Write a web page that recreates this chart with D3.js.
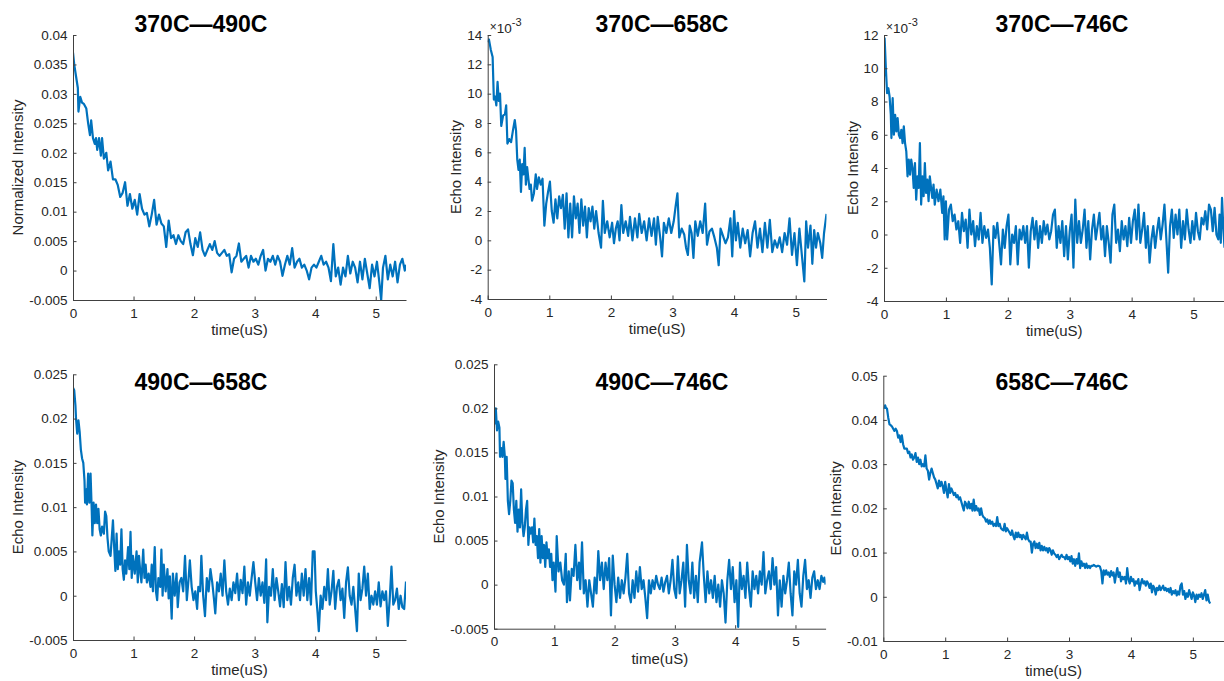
<!DOCTYPE html>
<html lang="en">
<head>
<meta charset="UTF-8">
<title>Echo intensity decays</title>
<script src="https://cdn.jsdelivr.net/npm/d3@7/dist/d3.min.js"></script>
<style>
    body { margin: 0; background: #fff; }
    svg { display: block; font-family: "Liberation Sans", Arial, Helvetica, sans-serif; }
    .tick text { font-size: 13.5px; fill: #262626; }
    .tick line, .domain { stroke: #404040; }
    .axis-label { font-size: 15px; fill: #262626; }
    .title { font-size: 23px; font-weight: bold; fill: #000; }
    .line { fill: none; stroke: #0072BD; stroke-width: 2.2px; stroke-linejoin: round; }
</style>
</head>
<body>
<svg width="1224" height="681"></svg>
<script>
// all intensities below are in units of 1e-3, time in uS
const titles = ["370C\u2014490C", "370C\u2014658C", "370C\u2014746C",
                "490C\u2014658C", "490C\u2014746C", "658C\u2014746C"];
const yLabels = ["Normalized Intensity", "Echo Intensity", "Echo Intensity",
                 "Echo Intensity", "Echo Intensity", "Echo Intensity"];
const xTicks = [0, 1, 2, 3, 4, 5];

const yTicks005 = [-5, 0, 5, 10, 15, 20, 25, 30, 35, 40];
const yTickText005 = ["-0.005", "0", "0.005", "0.01", "0.015", "0.02", "0.025", "0.03", "0.035", "0.04"];
const yTicks14 = [-4, -2, 0, 2, 4, 6, 8, 10, 12, 14];
const yTicks12 = [-4, -2, 0, 2, 4, 6, 8, 10, 12];
const yTicks025 = [-5, 0, 5, 10, 15, 20, 25];
const yTickText025 = ["-0.005", "0", "0.005", "0.01", "0.015", "0.02", "0.025"];
const yTicks05 = [-10, 0, 10, 20, 30, 40, 50];
const yTickText05 = ["-0.01", "0", "0.01", "0.02", "0.03", "0.04", "0.05"];

const s370_490 = [[0,37],[0.02,35],[0.05,33],[0.08,31],[0.09,27],[0.12,29.5],[0.15,28.5],[0.18,28.3],[0.22,27.5],
 [0.25,25],[0.28,23],[0.3,25.5],[0.33,22.5],[0.36,21.5],[0.38,22.5],[0.4,20.5],[0.43,22.5],[0.46,19.5],[0.48,22.5],
 [0.51,19],[0.55,20],[0.58,17],[0.62,18.5],[0.66,15.5],[0.7,15.5],[0.74,14.5],[0.78,12.5],[0.82,13.2],[0.86,15],
 [0.9,11],[0.94,13],[0.98,10.5],[1.02,12],[1.06,9.5],[1.1,13],[1.14,10.5],[1.18,9.5],[1.22,9.8],[1.26,7.5],[1.3,9.5],
 [1.34,12],[1.38,7.8],[1.42,9.5],[1.46,8],[1.5,7.5],[1.54,4],[1.58,8.5],[1.62,5.5],[1.66,6],[1.7,4.5],[1.74,6],
 [1.78,5],[1.82,4.5],[1.86,6.5],[1.9,7],[1.94,4.5],[1.98,2.6],[2.02,5.5],[2.06,4],[2.1,6.5],[2.14,3.5],[2.18,2.5],
 [2.22,3.5],[2.26,4.5],[2.3,3.5],[2.34,5],[2.38,3],[2.42,2.5],[2.46,3],[2.5,3.5],[2.54,2.5],[2.58,2.8],[2.62,-0.3],
 [2.66,2],[2.7,2.5],[2.74,4.6],[2.78,1.5],[2.82,2],[2.86,2.5],[2.9,0.5],[2.94,2.5],[2.98,1.5],[3.02,2],[3.06,1],
 [3.1,2.5],[3.14,3.5],[3.18,0],[3.22,2],[3.26,1.5],[3.3,2.5],[3.34,1],[3.38,2.5],[3.42,1.5],[3.46,-0.9],[3.5,1],
 [3.54,2.5],[3.58,1],[3.62,3.8],[3.66,0.5],[3.7,1.5],[3.74,2],[3.78,0.5],[3.82,1],[3.86,0],[3.9,-1.5],[3.94,0.5],
 [3.98,1],[4.02,0.5],[4.06,1.5],[4.1,2.5],[4.14,1],[4.18,1.5],[4.22,0.5],[4.26,-1.8],[4.3,4.5],[4.34,-1],[4.38,0.5],
 [4.42,-2.4],[4.46,0.5],[4.5,-1],[4.54,2.5],[4.58,-0.5],[4.62,1.5],[4.66,0.5],[4.7,-2],[4.74,1.5],[4.78,-1.5],
 [4.82,2],[4.86,-0.5],[4.9,-3],[4.94,1],[4.98,-1],[5.02,1.5],[5.06,-2],[5.09,-5],[5.12,0.5],[5.16,2.5],[5.2,-1.5],
 [5.24,1],[5.28,-1],[5.32,1.5],[5.36,-2],[5.4,1],[5.44,2],[5.48,0],[5.5,1]];

const s370_658 = [[0,13.5],[0.02,13.7],[0.05,13],[0.08,12.5],[0.1,9.6],[0.12,9.8],[0.14,9.2],[0.16,10.8],[0.18,9.5],
 [0.2,10],[0.22,7.8],[0.25,8.5],[0.28,8.6],[0.3,9.2],[0.32,6.6],[0.35,6.9],[0.38,6.7],[0.41,7.5],[0.44,8.2],[0.46,7.5],
 [0.48,5.5],[0.5,4.8],[0.52,5.5],[0.54,3.3],[0.56,5.2],[0.58,4.5],[0.6,6.3],[0.62,3.8],[0.64,5],[0.66,4.2],[0.68,3.5],
 [0.7,3.8],[0.72,2.7],[0.75,3.2],[0.78,4.5],[0.8,3.5],[0.83,4.3],[0.86,3.8],[0.89,4.2],[0.92,1],[0.95,2.5],[0.98,3.3],
 [1.01,4],[1.04,2],[1.07,1.2],[1.1,2.8],[1.13,1.5],[1.16,3],[1.19,2.2],[1.22,3.1],[1.25,0.8],[1.28,3.2],[1.31,0.2],
 [1.34,2.5],[1.37,0.2],[1.4,3],[1.43,1.5],[1.46,2.5],[1.49,0.5],[1.52,2.8],[1.55,1],[1.58,2.3],[1.61,0.2],[1.64,2.2],
 [1.67,1.3],[1.7,2.3],[1.73,0.8],[1.76,2],[1.8,0.5],[1.84,-0.5],[1.87,2.7],[1.9,0.5],[1.94,1.3],[1.98,0.2],[2.02,1.2],
 [2.05,-0.2],[2.08,0.8],[2.11,1.3],[2.14,0],[2.17,2.4],[2.2,0.5],[2.24,1.3],[2.28,0.3],[2.31,1.6],[2.35,0],[2.39,1.5],
 [2.43,0.2],[2.46,1.8],[2.5,0.5],[2.54,1.3],[2.58,0],[2.62,1.5],[2.66,0.3],[2.7,1.5],[2.73,-0.3],[2.76,1.6],[2.8,0.2],
 [2.83,-1.1],[2.86,1.2],[2.9,0.5],[2.94,1.5],[2.98,0.5],[3.02,1.3],[3.05,2.3],[3.08,3.2],[3.11,0.2],[3.15,0.8],
 [3.19,0.4],[3.22,-0.5],[3.25,-1],[3.28,1],[3.31,0.5],[3.34,-1.2],[3.37,1.3],[3.41,0.3],[3.45,1.3],[3.49,0.5],
 [3.53,2.5],[3.56,-0.3],[3.6,0.6],[3.64,0.8],[3.68,0.2],[3.72,-0.5],[3.75,-1.7],[3.78,0.8],[3.82,0.3],[3.86,-0.2],
 [3.9,0.2],[3.94,1.5],[3.97,-1.1],[4,2],[4.03,0],[4.06,1.2],[4.1,-0.5],[4.14,0.8],[4.18,-0.2],[4.22,0.7],[4.26,-1.1],
 [4.3,0.5],[4.34,1.3],[4.38,-0.5],[4.42,0.8],[4.46,-0.8],[4.5,1.2],[4.54,-0.5],[4.58,1.4],[4.62,-0.8],[4.66,0],
 [4.7,-0.5],[4.74,0.2],[4.78,-0.8],[4.82,0.5],[4.86,-0.3],[4.9,1.5],[4.94,-1],[4.98,0.5],[5.02,-1.7],[5.06,0.8],
 [5.1,-1],[5.14,-2.8],[5.17,1.3],[5.2,-0.5],[5.24,1],[5.27,-1.6],[5.3,0.7],[5.33,-0.5],[5.36,0.5],[5.4,-0.2],
 [5.43,-1.2],[5.46,0.5],[5.5,1.8]];

const s370_746 = [[0,9.5],[0.01,11.8],[0.03,10],[0.05,8.5],[0.07,8.8],[0.09,8.3],[0.11,7.2],[0.12,5.8],[0.14,8.2],
 [0.16,6],[0.18,7.2],[0.2,6.2],[0.22,7],[0.24,6],[0.26,5.8],[0.28,6.3],[0.3,5.5],[0.32,6.5],[0.34,5.5],[0.36,5],
 [0.38,3.5],[0.4,4.5],[0.42,3.6],[0.44,4.5],[0.46,4],[0.48,2.8],[0.5,4.3],[0.52,2.1],[0.54,3.5],[0.56,2.8],[0.58,5.5],
 [0.6,1.8],[0.62,3.5],[0.64,2.3],[0.66,4.3],[0.68,2.5],[0.7,3.3],[0.72,2],[0.74,3.5],[0.76,2.8],[0.78,2.2],[0.8,3],
 [0.82,1.8],[0.85,2.7],[0.88,2],[0.91,2.7],[0.94,1.3],[0.96,2.3],[0.98,-0.3],[1,2],[1.02,-0.3],[1.05,1.5],[1.08,1.8],
 [1.11,0.8],[1.14,1.2],[1.17,0.3],[1.2,0.8],[1.23,-0.5],[1.26,1.3],[1.29,0.2],[1.32,0.9],[1.35,-0.8],[1.38,1.5],
 [1.41,0],[1.44,0.8],[1.47,-0.7],[1.5,0.5],[1.53,-0.3],[1.56,1.3],[1.59,-0.5],[1.62,0.5],[1.65,-0.2],[1.68,0.3],
 [1.71,-0.8],[1.74,-3],[1.77,0.5],[1.8,-0.2],[1.83,0.7],[1.86,-0.5],[1.89,-1.8],[1.92,0.3],[1.95,-0.8],[1.98,0.5],
 [2.01,1.2],[2.04,-1.8],[2.07,0],[2.1,-0.5],[2.13,0.5],[2.16,-1.8],[2.19,0.3],[2.22,-0.3],[2.25,0.5],[2.28,-0.5],
 [2.31,0.5],[2.34,-2],[2.37,0.2],[2.4,1],[2.43,-0.3],[2.46,0.8],[2.49,-0.8],[2.52,0.5],[2.55,-0.5],[2.58,0.8],
 [2.61,0],[2.64,0.6],[2.67,-0.3],[2.7,0.2],[2.73,1.2],[2.76,1.5],[2.79,-0.8],[2.82,0.5],[2.85,-0.5],[2.88,0.8],
 [2.91,-1.3],[2.94,0.5],[2.97,-1.5],[3,0.2],[3.03,1.2],[3.06,-2],[3.09,2.1],[3.12,-0.5],[3.15,0.8],[3.18,-0.5],
 [3.21,0.3],[3.24,1.5],[3.27,-0.8],[3.3,0.8],[3.33,-1.5],[3.36,0.3],[3.39,1.2],[3.42,-0.3],[3.45,0.5],[3.48,1.3],
 [3.51,-0.3],[3.54,0.5],[3.57,-1.3],[3.6,0.5],[3.63,-0.5],[3.66,-1.7],[3.69,1.2],[3.72,1.8],[3.75,-0.5],[3.78,0.3],
 [3.81,-1],[3.84,0.8],[3.87,-0.3],[3.9,0.5],[3.93,-0.7],[3.96,1],[3.99,-0.5],[4.02,0.8],[4.05,1.5],[4.08,-0.3],
 [4.11,1.8],[4.14,-0.5],[4.17,0.3],[4.2,1.3],[4.23,-0.8],[4.26,0.5],[4.29,-1.7],[4.32,-0.3],[4.35,0.5],[4.38,-0.8],
 [4.41,0.2],[4.44,1],[4.47,-0.3],[4.5,0.6],[4.53,1.8],[4.56,-0.2],[4.59,-2.3],[4.62,0.5],[4.65,1.5],[4.68,-0.2],
 [4.71,1.2],[4.74,0],[4.77,1.5],[4.8,-0.8],[4.83,0.8],[4.86,-0.3],[4.89,1.5],[4.92,0.3],[4.95,-0.5],[4.98,0.8],
 [5.01,-0.3],[5.04,1.3],[5.07,0.2],[5.1,-0.3],[5.13,1],[5.16,0.6],[5.19,1.4],[5.22,0.3],[5.25,1.8],[5.28,1.5],
 [5.31,0.2],[5.34,1.6],[5.37,0],[5.4,-0.3],[5.42,1.2],[5.44,-0.5],[5.46,2.2],[5.48,0.5],[5.5,-0.8]];

const s490_658 = [[0,23.5],[0.02,23.2],[0.04,21.5],[0.05,20],[0.07,18.3],[0.09,19.8],[0.11,18.5],[0.13,16.5],
 [0.15,15.5],[0.17,15],[0.19,13],[0.2,10.5],[0.22,12],[0.23,10.3],[0.25,13.8],[0.27,10.5],[0.29,13.8],[0.31,9.5],
 [0.32,6.8],[0.34,10.5],[0.36,8.2],[0.38,10.3],[0.4,8.2],[0.42,9.8],[0.44,7.5],[0.46,6.8],[0.48,7.8],[0.51,7],
 [0.53,9.5],[0.55,9],[0.57,6.5],[0.59,5],[0.62,4.5],[0.64,6.5],[0.66,8.5],[0.68,5.5],[0.7,2.8],[0.72,7],[0.74,3],
 [0.76,5],[0.78,3.5],[0.8,7.5],[0.82,3],[0.84,1.8],[0.86,4],[0.88,2.5],[0.91,5.5],[0.93,3],[0.95,7.2],[0.97,2],
 [0.99,4.5],[1.02,2.5],[1.05,5],[1.07,1.5],[1.09,4.5],[1.11,2.8],[1.13,1.5],[1.16,5.2],[1.18,2],[1.2,3.5],[1.22,1.5],
 [1.25,2.5],[1.28,1],[1.3,3.5],[1.32,0.5],[1.35,5.5],[1.37,0.5],[1.39,-0.5],[1.41,2],[1.44,1],[1.46,5.2],[1.48,0],
 [1.5,3.5],[1.53,0.5],[1.56,3],[1.58,-0.3],[1.6,2.2],[1.63,-2.6],[1.65,2.5],[1.68,0],[1.71,2.5],[1.73,-1.3],
 [1.76,1.5],[1.79,2],[1.82,0.5],[1.85,4.5],[1.88,-0.5],[1.91,2],[1.93,4],[1.96,1],[1.99,-0.5],[2.02,0.5],[2.05,-1.5],
 [2.07,1],[2.1,0.5],[2.12,4.5],[2.15,0],[2.18,-2.3],[2.21,2],[2.24,0.5],[2.27,3],[2.3,1.5],[2.33,-0.5],[2.35,-2],
 [2.38,1.5],[2.41,0.5],[2.44,2.5],[2.47,0],[2.5,4],[2.53,0.5],[2.56,-1],[2.59,0.8],[2.62,-0.5],[2.65,1.5],[2.68,0.3],
 [2.71,2.5],[2.74,-0.5],[2.77,1.8],[2.8,0.3],[2.83,3.3],[2.86,-1],[2.89,1.5],[2.92,0],[2.95,2],[2.98,3.8],[3.01,1.5],
 [3.04,-0.5],[3.07,2],[3.1,0],[3.13,1.5],[3.16,-0.8],[3.19,4.1],[3.21,-3],[3.24,1],[3.27,0],[3.3,3],[3.33,-0.5],
 [3.36,2],[3.39,0.5],[3.42,-1.2],[3.45,1.3],[3.48,-1.3],[3.51,3.8],[3.54,-0.5],[3.57,1],[3.6,-1],[3.63,2],[3.66,3.5],
 [3.69,0],[3.72,1.5],[3.75,-0.5],[3.78,2.5],[3.81,0],[3.84,3],[3.87,-0.5],[3.9,2],[3.93,-1],[3.96,5],[3.99,5],
 [4.01,0.5],[4.04,-2],[4.06,-4],[4.09,0],[4.12,-1.5],[4.15,1],[4.18,-0.5],[4.21,3],[4.24,-1],[4.27,0.5],[4.3,2.8],
 [4.33,-1.5],[4.36,1],[4.39,1.8],[4.42,-0.5],[4.45,0.8],[4.48,-2.5],[4.51,1.5],[4.54,3.2],[4.57,0],[4.6,-1],[4.63,1],
 [4.66,-1.5],[4.69,-4],[4.72,2.5],[4.75,-0.5],[4.78,0.8],[4.81,3.3],[4.84,0],[4.87,2.5],[4.9,-1.5],[4.93,0],[4.96,-1],
 [4.99,0.5],[5.02,-1],[5.05,1.5],[5.08,-1.2],[5.11,0.5],[5.14,-0.5],[5.17,0.5],[5.2,-3.4],[5.23,-0.5],[5.26,3.3],
 [5.29,-1],[5.32,-0.5],[5.35,0.8],[5.38,-1.5],[5.41,0],[5.44,-1.3],[5.47,-1.5],[5.5,1.6]];

const s490_746 = [[0,19],[0.02,18.3],[0.03,20],[0.05,17.5],[0.07,18.5],[0.09,17.8],[0.1,14.5],[0.12,15.5],[0.14,14.5],
 [0.16,16.2],[0.18,14.5],[0.19,12],[0.21,14.5],[0.23,9.5],[0.25,8],[0.27,9.5],[0.29,11.8],[0.31,11.5],[0.33,8.5],
 [0.35,7],[0.37,9.5],[0.39,6],[0.41,8.5],[0.43,6.5],[0.45,10.8],[0.47,7],[0.49,5.5],[0.51,6.5],[0.53,8.5],[0.55,9.5],
 [0.57,4.5],[0.59,6.5],[0.61,5.8],[0.63,6.5],[0.65,4.8],[0.67,7.5],[0.69,4.5],[0.71,5.5],[0.73,3],[0.75,6.3],
 [0.77,2.5],[0.79,5.5],[0.81,3],[0.83,4.5],[0.85,2],[0.87,4.8],[0.89,3],[0.91,4],[0.93,2],[0.95,3.5],[0.97,0.5],
 [0.99,2.5],[1.02,-0.8],[1.04,5.5],[1.07,1.5],[1.1,2.5],[1.13,0.5],[1.16,0],[1.19,3.5],[1.21,-2],[1.24,1.5],
 [1.26,-1.8],[1.29,1.8],[1.32,1],[1.35,4.5],[1.38,0.5],[1.41,2.5],[1.43,-0.5],[1.46,4.8],[1.49,-1],[1.52,0.5],
 [1.55,-2.5],[1.58,0.5],[1.61,-1],[1.64,-2.5],[1.67,0.8],[1.7,-1],[1.73,3.8],[1.76,0.5],[1.79,2.5],[1.82,-0.5],
 [1.85,2.5],[1.88,0.5],[1.91,3],[1.94,-3.5],[1.97,3.3],[2,0],[2.03,-2],[2.06,0.8],[2.09,-1.5],[2.12,0.5],[2.15,-1],
 [2.18,0.8],[2.21,3.5],[2.24,-1],[2.27,-2],[2.3,0.5],[2.33,-1.5],[2.36,1.5],[2.39,-0.8],[2.42,2],[2.45,-0.5],
 [2.48,0.5],[2.51,-1.5],[2.54,-3.8],[2.57,0.5],[2.6,-1],[2.63,0.5],[2.66,-0.5],[2.69,1],[2.72,0],[2.75,-0.5],
 [2.78,0.8],[2.81,-0.8],[2.84,0.3],[2.87,1],[2.9,-1],[2.93,0.5],[2.96,2.8],[2.99,-0.5],[3.02,-1.5],[3.05,3.2],
 [3.08,-1],[3.11,0.5],[3.14,2.5],[3.17,-2.5],[3.2,4.5],[3.23,0.5],[3.26,-1],[3.29,2.5],[3.32,-1.5],[3.35,1],[3.38,-2],
 [3.41,2.5],[3.45,4.8],[3.48,1],[3.51,-2],[3.54,1.5],[3.57,-1],[3.6,0.5],[3.63,-1.5],[3.66,1],[3.69,-2],[3.72,0],
 [3.75,-2.5],[3.78,0.5],[3.81,-1],[3.84,-4.3],[3.87,0.5],[3.9,2.8],[3.93,-0.5],[3.96,2],[3.99,-2],[4.02,0.5],
 [4.05,-4.8],[4.08,2.5],[4.11,-0.5],[4.14,1],[4.17,-1.5],[4.2,2.5],[4.23,-0.5],[4.26,-2.5],[4.29,1.5],[4.32,-0.5],
 [4.35,1],[4.38,-1],[4.41,1.5],[4.44,0],[4.47,3.7],[4.5,-1],[4.53,0.5],[4.56,1.5],[4.59,-0.5],[4.62,3],[4.65,0],
 [4.68,2],[4.71,-3.5],[4.74,0.5],[4.77,-2.5],[4.8,1],[4.83,-1],[4.86,0.5],[4.89,2.5],[4.92,-1],[4.95,-3.5],[4.98,1.5],
 [5.01,0],[5.04,2.8],[5.07,-1],[5.1,-2.5],[5.13,1],[5.16,2.8],[5.19,-0.5],[5.22,0.5],[5.25,-1.5],[5.28,0.8],
 [5.31,1.5],[5.34,-0.5],[5.37,0.5],[5.4,-0.5],[5.43,1],[5.46,0.3],[5.48,0.8],[5.5,0]];

const s658_746 = [[0.02,42.5],[0.03,43.3],[0.04,42.8],[0.06,42.5],[0.08,40.5],[0.1,39],[0.12,38.8],[0.14,38.5],
 [0.16,38],[0.18,37.5],[0.2,38],[0.22,37.5],[0.24,36],[0.26,36.5],[0.28,35],[0.3,36.5],[0.32,34.5],[0.34,33.5],
 [0.36,33.5],[0.38,33.5],[0.4,32.5],[0.42,32.8],[0.44,31.5],[0.46,32.2],[0.48,31],[0.5,31.5],[0.52,32.5],[0.54,30.5],
 [0.56,31.5],[0.58,30],[0.6,31],[0.62,29.5],[0.64,30],[0.66,29.5],[0.68,32],[0.7,29],[0.72,28.5],[0.74,26.5],
 [0.76,28],[0.78,29],[0.8,28],[0.82,27],[0.84,26.5],[0.86,25.5],[0.88,24.5],[0.9,26.3],[0.92,25],[0.94,26],[0.96,25],
 [0.98,23.5],[1,26],[1.02,24],[1.04,22.5],[1.06,25.5],[1.08,23.5],[1.1,24.5],[1.12,23.8],[1.14,23],[1.16,23.5],
 [1.18,22.5],[1.2,23],[1.22,22],[1.24,22.5],[1.26,21.5],[1.28,20.5],[1.3,19.5],[1.32,21.5],[1.34,21],[1.36,20],
 [1.38,21.5],[1.4,20],[1.42,21],[1.44,19.5],[1.46,22],[1.48,19.5],[1.5,20.5],[1.52,19.5],[1.54,20],[1.56,18.5],
 [1.58,20],[1.6,18.5],[1.62,18],[1.64,17.8],[1.66,17],[1.68,17.5],[1.7,16.5],[1.72,17.3],[1.74,16.5],[1.76,17],
 [1.78,16],[1.8,16.5],[1.82,16],[1.84,18],[1.86,16],[1.88,16.5],[1.9,15.5],[1.92,15.2],[1.94,15],[1.96,16.5],
 [1.98,14.8],[2,15.5],[2.02,15],[2.04,14.5],[2.06,14],[2.08,15],[2.1,13.8],[2.12,13],[2.14,14.5],[2.16,13.5],
 [2.18,14.5],[2.2,13.5],[2.22,14],[2.24,13],[2.26,14],[2.28,13.5],[2.3,13],[2.32,14.5],[2.34,13],[2.36,12.5],
 [2.38,12.5],[2.4,10],[2.42,12],[2.44,12.5],[2.46,11],[2.48,12],[2.5,11],[2.52,12.2],[2.54,10.5],[2.56,11.5],
 [2.58,10.5],[2.6,11.3],[2.62,10.5],[2.64,11],[2.66,10],[2.68,11],[2.7,10.5],[2.72,9.5],[2.74,10.5],[2.76,9.8],
 [2.78,9.5],[2.8,9],[2.82,9.5],[2.84,8.5],[2.86,9],[2.88,9.5],[2.9,9],[2.92,9],[2.94,8.5],[2.96,9.5],[2.98,8.5],
 [3,9],[3.02,8],[3.04,9.2],[3.06,7.5],[3.08,8.5],[3.1,7],[3.12,8.5],[3.14,7.5],[3.16,9.8],[3.18,6.5],[3.2,8],
 [3.22,7],[3.24,7.5],[3.26,6.5],[3.28,7.5],[3.3,6.5],[3.32,7],[3.34,6.5],[3.36,7],[3.38,7],[3.4,7.2],[3.42,7],
 [3.44,6.8],[3.46,7],[3.48,7],[3.5,6.8],[3.52,5.8],[3.54,3],[3.56,6],[3.58,5],[3.6,6],[3.62,5],[3.64,5.5],[3.66,4.5],
 [3.68,5.8],[3.7,4.8],[3.72,5.5],[3.74,3.2],[3.76,5],[3.78,6.5],[3.8,4.5],[3.82,5.5],[3.84,3.5],[3.86,4.5],[3.88,4],
 [3.9,4.5],[3.92,3],[3.94,6.5],[3.96,4],[3.98,3],[4,4.5],[4.02,3.5],[4.04,4],[4.06,2.5],[4.08,3.5],[4.1,3],[4.12,4],
 [4.14,1.5],[4.16,3],[4.18,4],[4.2,3],[4.22,3.5],[4.24,2.5],[4.26,3.5],[4.28,3],[4.3,2],[4.32,3],[4.34,1],[4.36,2.5],
 [4.38,2],[4.4,0.5],[4.42,2],[4.44,1.5],[4.46,2.5],[4.48,1.5],[4.5,2],[4.52,2.5],[4.54,1.5],[4.56,2],[4.58,1.3],
 [4.6,1.8],[4.62,1],[4.64,2],[4.66,0.5],[4.68,1.3],[4.7,0.8],[4.72,1.5],[4.74,0.3],[4.76,1.2],[4.78,0.5],[4.8,2.5],
 [4.82,3],[4.84,0.5],[4.86,1.3],[4.88,-0.5],[4.9,0.8],[4.92,0],[4.94,1.5],[4.96,0.5],[4.98,-0.5],[5,1],[5.02,0.3],
 [5.04,-1.2],[5.06,0.5],[5.08,-0.5],[5.1,0.5],[5.12,0],[5.14,0.8],[5.16,-0.5],[5.18,0.5],[5.2,1.5],[5.22,-0.8],
 [5.24,0.5],[5.26,-1],[5.28,-1.5]];

const panels = [
    { title: titles[0], ylabel: yLabels[0], data: s370_490, yTicks: yTicks005, yText: yTickText005, exp: false },
    { title: titles[1], ylabel: yLabels[1], data: s370_658, yTicks: yTicks14, yText: yTicks14.map(String), exp: true },
    { title: titles[2], ylabel: yLabels[2], data: s370_746, yTicks: yTicks12, yText: yTicks12.map(String), exp: true },
    { title: titles[3], ylabel: yLabels[3], data: s490_658, yTicks: yTicks025, yText: yTickText025, exp: false },
    { title: titles[4], ylabel: yLabels[4], data: s490_746, yTicks: yTicks025, yText: yTickText025, exp: false },
    { title: titles[5], ylabel: yLabels[5], data: s658_746, yTicks: yTicks05, yText: yTickText05, exp: false }
];

// axes boxes (px) and title anchors, matched to the original figure
const boxes = [
    { left: 73,    top: 35,    width: 333,   height: 265,   titleX: 201,  titleY: 31.5 },
    { left: 487.7, top: 35,    width: 338.8, height: 264,   titleX: 662,  titleY: 31.5 },
    { left: 884,   top: 35,    width: 340.5, height: 266,   titleX: 1062, titleY: 32 },
    { left: 73,    top: 374.3, width: 333,   height: 265.7, titleX: 201,  titleY: 390 },
    { left: 494,   top: 364.3, width: 331.6, height: 264.4, titleX: 662,  titleY: 390 },
    { left: 883.3, top: 375.7, width: 340.5, height: 265.3, titleX: 1062, titleY: 390 }
];

const svg = d3.select("svg");

panels.forEach((p, i) => {
    const b = boxes[i];
    const g = svg.append("g").attr("transform", `translate(${b.left},${b.top})`);

    const x = d3.scaleLinear().domain([0, 5.5]).range([0, b.width]);
    const y = d3.scaleLinear().domain(d3.extent(p.yTicks)).range([b.height, 0]);

    g.append("clipPath").attr("id", "clip" + i)
      .append("rect").attr("width", b.width).attr("height", b.height);

    g.append("path")
        .datum(p.data)
        .attr("class", "line")
        .attr("clip-path", `url(#clip${i})`)
        .attr("d", d3.line().x(d => x(d[0])).y(d => y(d[1])));

    const yAxis = g.append("g")
        .call(d3.axisLeft(y)
            .tickValues(p.yTicks)
            .tickFormat((d, k) => p.yText[k])
            .tickSizeInner(-3.5).tickSizeOuter(0).tickPadding(5.5));

    g.append("g")
        .attr("transform", `translate(0,${b.height})`)
        .call(d3.axisBottom(x)
            .tickValues(xTicks)
            .tickFormat(d3.format("d"))
            .tickSizeInner(-3.5).tickSizeOuter(0).tickPadding(8));

    const bb = yAxis.node().getBBox();
    g.append("text")
        .attr("class", "axis-label")
        .attr("transform", `translate(${bb.x - 11},${b.height / 2}) rotate(-90)`)
        .attr("text-anchor", "middle")
        .attr("dy", "0.35em")
        .text(p.ylabel);

    g.append("text")
        .attr("class", "axis-label")
        .attr("x", b.width / 2)
        .attr("y", b.height + 35)
        .attr("text-anchor", "middle")
        .text("time(uS)");

    // MATLAB style exponent label above the y axis
    if (p.exp) {
        const t = g.append("text")
            .attr("class", "axis-label")
            .attr("x", 2)
            .attr("y", -2.3)
            .style("font-size", "13.5px");
        t.append("tspan").style("font-size", "12px").attr("dy", "-1.5").text("\u00d7");
        t.append("tspan").attr("dy", "1.5").text("10");
        t.append("tspan").attr("dy", "-7").style("font-size", "11px").text("-3");
    }

    svg.append("text")
        .attr("class", "title")
        .attr("x", b.titleX)
        .attr("y", b.titleY)
        .attr("text-anchor", "middle")
        .text(p.title);
});
</script>
</body>
</html>
